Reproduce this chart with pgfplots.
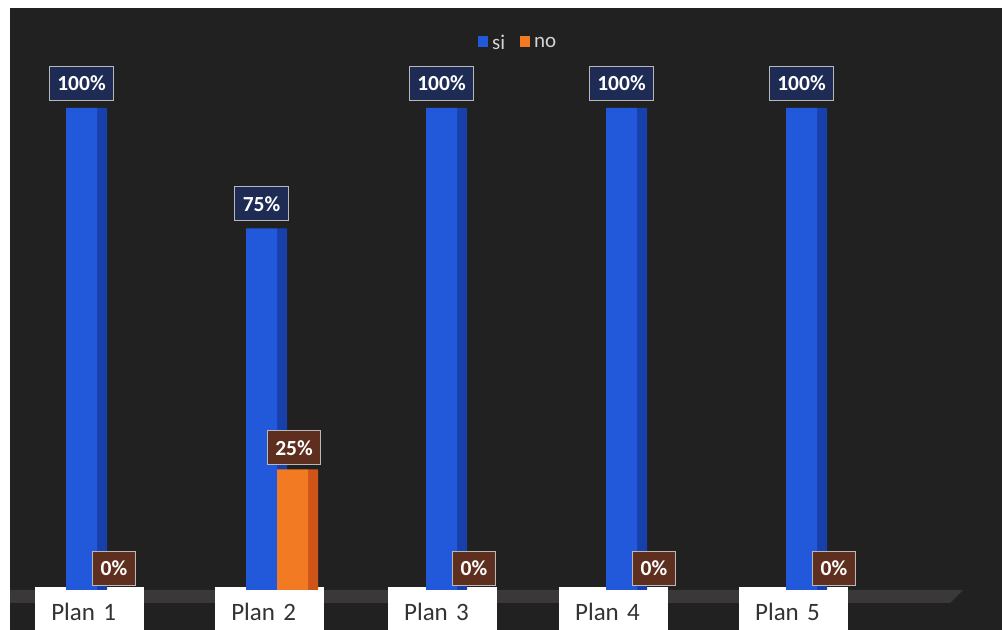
\documentclass[border=0pt]{standalone}
\usepackage{pgfplots}
\pgfplotsset{compat=1.18}
\usepackage{fontspec}
\setmainfont{Carlito}[WordSpace=0.6]

\definecolor{bg}{HTML}{212121}
\definecolor{floorc}{HTML}{3A3838}
\definecolor{blueF}{HTML}{2159DA}
\definecolor{blueS}{HTML}{1840AA}
\definecolor{orangeF}{HTML}{F27A22}
\definecolor{orangeS}{HTML}{CF5418}
\definecolor{navybox}{HTML}{1E2C55}
\definecolor{brownbox}{HTML}{5E2F1E}
\definecolor{boxline}{HTML}{B8B8B8}
\definecolor{legtext}{HTML}{D4D4D4}
\definecolor{labtext}{HTML}{333333}

\tikzset{label box/.style={anchor=south, text=white, draw=boxline, line width=1.2pt,
    font=\fontsize{21.5bp}{23bp}\selectfont\bfseries, inner xsep=8bp, inner ysep=0pt,
    minimum height=34bp}}
\newcommand{\legfont}{\fontsize{21bp}{23bp}\selectfont}

% si / no share per plan
\pgfplotstableread{
x si no
0 100 0
1 75  25
2 100 0
3 100 0
4 100 0
}\plans

\begin{document}
\begin{tikzpicture}
\path[use as bounding box] (0bp,0bp) rectangle (1002bp,630bp);
\clip (0bp,0bp) rectangle (1002bp,630bp);
\fill[white] (0bp,0bp) rectangle (1002bp,630bp);
\fill[bg] (10bp,0bp) rectangle (1002bp,622bp);
\fill[floorc] (10bp,40bp) -- (963bp,40bp) -- (950bp,27bp) -- (10bp,27bp) -- cycle;
\begin{axis}[
  at={(7bp,40bp)}, anchor=south west,
  scale only axis, width=900bp, height=482bp,
  xmin=-0.5, xmax=4.5, ymin=0, ymax=100,
  axis line style={draw=none},
  major tick length=0pt,
  ytick=\empty,
  xtick={-0.04,0.96,1.92,2.87,3.87},
  xticklabels={Plan 1,Plan 2,Plan 3,Plan 4,Plan 5},
  xticklabel style={fill=white, text=labtext, anchor=north, yshift=3bp,
    font=\fontsize{25bp}{28bp}\selectfont, text width=77bp, align=left,
    inner xsep=16bp, inner ysep=0pt, minimum height=50bp},
  /pgf/number format/assume math mode=true,
  legend style={at={(axis description cs:0.568,1.135)}, anchor=center,
    draw=none, fill=none, legend columns=2, text=legtext,
    /tikz/every even column/.append style={column sep=13bp}},
  legend image code/.code={\fill[#1] (0bp,-4bp) rectangle (10bp,7bp);},
]
% side faces
\addplot[ybar, bar width=10bp, bar shift=5bp, fill=blueS, draw=none, forget plot] table[x=x,y=si] {\plans};
% front faces
\addplot[ybar, bar width=31bp, bar shift=-15.5bp, fill=blueF, draw=none,
  nodes near coords={\pgfmathprintnumber[fixed]{\pgfplotspointmeta}\%},
  every node near coord/.append style={label box, fill=navybox, xshift=-15.5bp, yshift=7bp}] table[x=x,y=si] {\plans};
\addlegendentry{\legfont\hspace{2bp}si}
\addplot[ybar, bar width=10bp, bar shift=36bp, fill=orangeS, draw=none, forget plot] table[x=x,y=no] {\plans};
\addplot[ybar, bar width=31bp, bar shift=15.5bp, fill=orangeF, draw=none,
  nodes near coords={\pgfmathprintnumber[fixed]{\pgfplotspointmeta}\%},
  every node near coord/.append style={label box, fill=brownbox, xshift=17bp, yshift=4bp}] table[x=x,y=no] {\plans};
\addlegendentry{\legfont\hspace{2bp}no}
\end{axis}
\end{tikzpicture}
\end{document}
